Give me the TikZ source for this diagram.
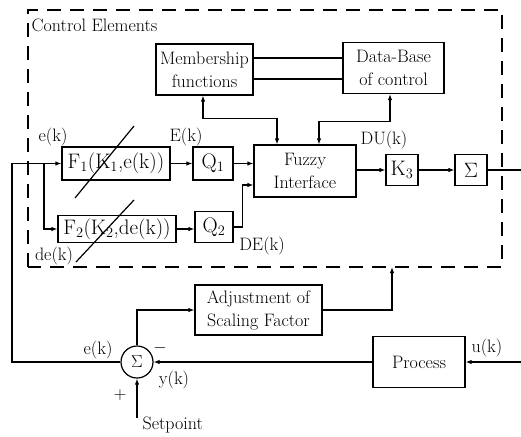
\documentclass[tikz,border=0pt]{standalone}
\usetikzlibrary{arrows.meta,calc}
\begin{document}
\begin{tikzpicture}[x=1pt,y=-1pt,
  line width=1.2pt,
  >={Latex[length=6pt,width=4.5pt]},
  blk/.style={draw,rectangle,inner sep=0pt,align=center,font=\fontsize{18}{23}\selectfont},
  bigblk/.style={draw,rectangle,inner sep=0pt,align=center,font=\fontsize{21}{23}\selectfont},
  lbl/.style={inner sep=0pt,font=\fontsize{18}{20}\selectfont},
  dashbox/.style={dash pattern=on 14pt off 9pt,line width=1.3pt}]
\useasboundingbox (0,0) rectangle (521,436);
% dashed frame
\draw[dashbox] (28,267) -- (28,10) -- (502,10) -- (502,267) -- cycle;
\node[lbl,anchor=west] (ttl) at (31,25) {Control Elements};
% blocks
\node[blk,minimum width=97pt,minimum height=51pt] (mf) at (204.5,69.5) {Membership\\functions};
\node[blk,minimum width=101pt,minimum height=51pt] (db) at (393.5,68) {Data-Base\\of control};
\node[blk,minimum width=102pt,minimum height=52pt] (fz) at (305,171) {Fuzzy\\Interface};
\node[bigblk,minimum width=108pt,minimum height=33pt] (f1) at (116,163.5) {F$_1$(K$_1$,e(k))};
\node[bigblk,minimum width=40pt,minimum height=33pt] (q1) at (213,163.5) {Q$_1$};
\node[bigblk,minimum width=118pt,minimum height=27pt] (f2) at (117,229) {F$_2$(K$_2$,de(k))};
\node[bigblk,minimum width=38pt,minimum height=31pt] (q2) at (214,227) {Q$_2$};
\node[bigblk,minimum width=32pt,minimum height=31pt] (k3) at (402,170) {K$_3$};
\node[bigblk,minimum width=32pt,minimum height=31pt] (sg) at (471,170) {$\Sigma$};
\node[blk,minimum width=127pt,minimum height=50pt] (adj) at (258.5,310) {Adjustment of\\Scaling Factor};
\node[draw,circle,minimum size=32pt,inner sep=0pt,font=\fontsize{19}{20}\selectfont] (sc) at (137,362) {$\Sigma$};
\node[blk,minimum width=92pt,minimum height=51pt] (pr) at (419,362) {Process};
% coordinates
\coordinate (lft) at (12,163.5);
\coordinate (br) at (44,163.5);
\coordinate (dbot) at (392,267);
\coordinate (sp) at (137,418);
\coordinate (outr) at (521,170);
\coordinate (inr) at (521,362);
% connectors
\draw ([yshift=11.5pt]mf.east) -- ([yshift=11.5pt]mf.east -| db.west);
\draw ([yshift=-9.5pt]mf.east) -- ([yshift=-9.5pt]mf.east -| db.west);
\draw[<->] ([xshift=-1.5pt]mf.south) -- ++(0,23) -| ([xshift=-28pt]fz.north);
\draw[<->] ([xshift=-3.5pt]db.south) -- ++(0,27) -| ([xshift=14pt]fz.north);
\draw[->] (sc.west) -| (lft) -- (f1.west);
\draw[->] (br) |- (f2.west);
\draw[->] (f1.east) -- (q1.west);
\draw[->] (f2.east) -- (f2.east -| q2.west);
\draw[->] (q1.east) -- (q1.east -| fz.west);
\draw[->] (q2.east) -- ++(9,0) |- ([yshift=-14pt]fz.west);
\draw[->] (fz.east |- k3.west) -- (k3.west);
\draw[->] (k3.east) -- (sg.west);
\draw (sg.east) -- (outr);
\draw[->] (adj.east) -| (dbot);
\draw[->] (sc.north) |- (adj.west);
\draw[->] (pr.west) -- (sc.east);
\draw[->] (inr) -- (pr.east);
\draw[->] (sp) -- (sc.south);
% slashes
\draw (75,198) -- (134,126);
\draw (76,262) -- (134,200);
% labels
\node[lbl] (l1) at (53,137) {e(k)};
\node[lbl] (l2) at (186,137) {E(k)};
\node[lbl] (l3) at (54,256) {de(k)};
\node[lbl] (l4) at (262,246) {DE(k)};
\node[lbl] (l5) at (384,140) {DU(k)};
\node[lbl] (l6) at (98,350) {e(k)};
\node[lbl] (l7) at (160,348) {$-$};
\node[lbl] (l8) at (174,380) {y(k)};
\node[lbl] (l9) at (120,395) {$+$};
\node[lbl,anchor=west] (l10) at (142,425) {Setpoint};
\node[lbl] (l11) at (487,348) {u(k)};
\end{tikzpicture}
\end{document}
